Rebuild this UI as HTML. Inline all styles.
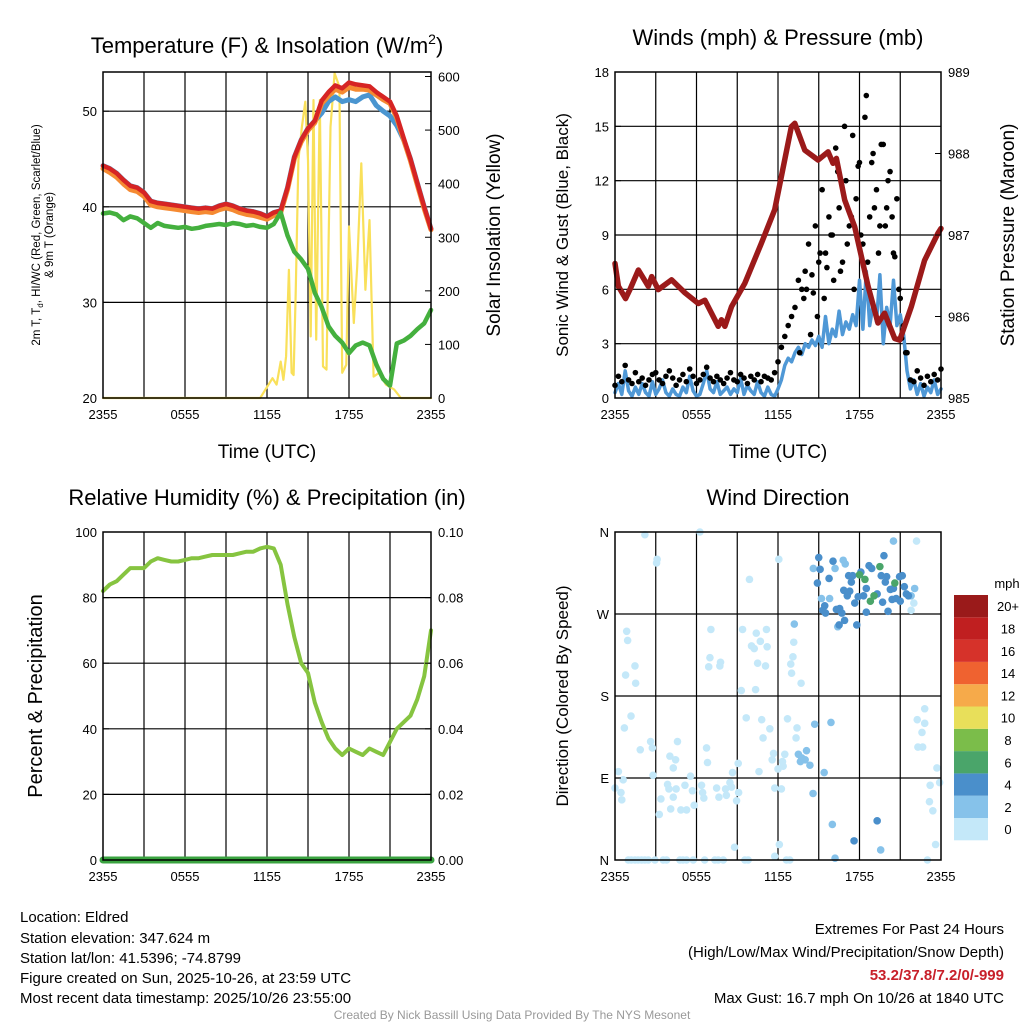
<!DOCTYPE html>
<html><head><meta charset="utf-8"><style>
body{margin:0;background:#fff}
svg{display:block;font-family:"Liberation Sans",sans-serif}
</style></head><body>
<svg id="s" width="1024" height="1024" viewBox="0 0 1024 1024" xmlns="http://www.w3.org/2000/svg">
<rect width="1024" height="1024" fill="#fff"/>
<g id="p1"></g>
<g id="p2"></g>
<g id="p3"></g>
<g id="p4"></g>
<text x="267" y="53" font-size="22" text-anchor="middle">Temperature (F) &amp; Insolation (W/m<tspan font-size="14" dy="-9">2</tspan><tspan dy="9">)</tspan></text>
<text x="778" y="45" font-size="22" text-anchor="middle">Winds (mph) &amp; Pressure (mb)</text>
<text x="267" y="505" font-size="22" text-anchor="middle">Relative Humidity (%) &amp; Precipitation (in)</text>
<text x="778" y="505" font-size="22" text-anchor="middle">Wind Direction</text>
<text transform="translate(40,235) rotate(-90)" font-size="11.5" text-anchor="middle">2m T, T<tspan font-size="8" dy="3">d</tspan><tspan dy="-3">, HI/WC (Red, Green, Scarlet/Blue)</tspan></text>
<text transform="translate(53,235) rotate(-90)" font-size="11.5" text-anchor="middle">&amp; 9m T (Orange)</text>
<text transform="translate(500,235) rotate(-90)" font-size="19" text-anchor="middle">Solar Insolation (Yellow)</text>
<text transform="translate(568,235) rotate(-90)" font-size="17" text-anchor="middle">Sonic Wind &amp; Gust (Blue, Black)</text>
<text transform="translate(1014,235) rotate(-90)" font-size="19" text-anchor="middle">Station Pressure (Maroon)</text>
<text transform="translate(42,696) rotate(-90)" font-size="20" text-anchor="middle">Percent &amp; Precipitation</text>
<text transform="translate(568,696) rotate(-90)" font-size="17" text-anchor="middle">Direction (Colored By Speed)</text>
<text x="267" y="458" font-size="19" text-anchor="middle">Time (UTC)</text>
<text x="778" y="458" font-size="19" text-anchor="middle">Time (UTC)</text>
<g font-size="15">
<text x="20" y="922">Location: Eldred</text>
<text x="20" y="943">Station elevation: 347.624 m</text>
<text x="20" y="963">Station lat/lon: 41.5396; -74.8799</text>
<text x="20" y="983">Figure created on Sun, 2025-10-26, at 23:59 UTC</text>
<text x="20" y="1003">Most recent data timestamp: 2025/10/26 23:55:00</text>
</g>
<g font-size="15" text-anchor="end">
<text x="1004" y="934">Extremes For Past 24 Hours</text>
<text x="1004" y="957">(High/Low/Max Wind/Precipitation/Snow Depth)</text>
<text x="1004" y="980" fill="#c8202a" font-weight="bold">53.2/37.8/7.2/0/-999</text>
<text x="1004" y="1003">Max Gust: 16.7 mph On 10/26 at 1840 UTC</text>
</g>
<text x="512" y="1019" font-size="12" fill="#999" text-anchor="middle">Created By Nick Bassill Using Data Provided By The NYS Mesonet</text>
<g id="cb"></g>
</svg>
<script>
// ---- data ----
const xTickLabels = ["2355","0555","1155","1755","2355"];
const halfHours = [0,0.5,1,1.5,2,2.5,3,3.5,4,4.5,5,5.5,6,6.5,7,7.5,8,8.5,9,9.5,10,10.5,11,11.5,12,12.5,13,13.5,14,14.5,15,15.5,16,16.5,17,17.5,18,18.5,19,19.5,20,20.5,21,21.5,22,22.5,23,23.5,24];
const tempRed = [44.3,44.0,43.5,42.8,42.2,42.0,41.5,40.6,40.4,40.3,40.2,40.1,40.0,39.9,39.8,39.9,39.8,40.1,40.3,40.1,39.8,39.6,39.5,39.3,39.0,39.4,39.6,42.0,45.2,47.0,48.2,49.0,51.1,52.0,52.7,52.4,53.0,52.8,52.7,52.6,52.0,51.5,51.0,49.5,47.2,45.0,42.5,40.0,37.7];
const tempOrange = [44.0,43.6,43.1,42.4,41.8,41.6,41.1,40.2,40.0,39.9,39.8,39.7,39.6,39.5,39.4,39.5,39.4,39.7,39.9,39.7,39.4,39.2,39.1,38.9,38.7,39.1,39.4,41.8,45.0,46.8,48.0,48.8,50.8,51.6,52.3,52.0,52.5,52.3,52.3,52.2,51.7,51.2,50.8,49.3,47.0,44.8,42.3,39.8,37.6];
const tempBlue = [44.3,44.0,43.5,42.8,42.2,42.0,41.5,40.6,40.4,40.3,40.2,40.1,40.0,39.9,39.8,39.9,39.8,40.1,40.3,40.1,39.8,39.6,39.5,39.3,39.0,39.4,39.6,42.0,45.2,47.0,48.2,49.0,49.8,51.0,51.5,51.0,51.2,51.0,51.5,51.7,50.6,50.0,49.5,48.5,47.0,45.0,42.5,40.0,37.7];
const dewGreen = [39.3,39.4,39.2,38.6,39.0,38.8,38.3,37.8,38.3,38.0,37.9,37.8,37.9,37.7,37.8,38.0,38.1,38.2,38.1,38.3,38.2,38.0,38.1,37.9,37.8,38.2,39.4,37.0,35.3,34.5,33.5,31.0,29.5,27.5,26.5,25.8,24.7,25.5,25.8,25.5,23.5,22.0,21.3,25.7,26.0,26.5,27.2,27.8,29.2];
const solarHours = [0,11.5,12.4,12.7,13.0,13.2,13.4,13.6,13.8,13.95,14.1,14.3,14.55,14.8,15.0,15.2,15.4,15.6,15.86,16.1,16.35,16.65,16.95,17.3,17.5,17.8,18.0,18.35,18.6,18.9,19.2,19.5,19.8,20.2,20.7,21.3,21.8,24];
const solarValues = [0,0,37,25,68,34,78,239,47,43,196,444,506,553,444,115,556,109,556,59,53,506,606,581,47,62,320,140,245,438,202,332,40,47,25,16,0,0];
const humidity = [82,84,85,87,89,89,89,91,92,91.5,91,91,91.5,92,92,92.5,93,93,93,93,93.5,94,94,95,95.5,95,90,78,68,60,57,48,42,37,34,32,34,33,32,34,33,32,36,40,42,44,49,56,70];
const precip = [0,0];
const precipHours = [0,24];
const quarterHours = [0,0.25,0.5,0.75,1,1.25,1.5,1.75,2,2.25,2.5,2.75,3,3.25,3.5,3.75,4,4.25,4.5,4.75,5,5.25,5.5,5.75,6,6.25,6.5,6.75,7,7.25,7.5,7.75,8,8.25,8.5,8.75,9,9.25,9.5,9.75,10,10.25,10.5,10.75,11,11.25,11.5,11.75,12,12.25,12.5,12.75,13,13.25,13.5,13.75,14,14.25,14.5,14.75,15,15.25,15.5,15.75,16,16.25,16.5,16.75,17,17.25,17.5,17.75,18,18.25,18.5,18.75,19,19.25,19.5,19.75,20,20.25,20.5,20.75,21,21.25,21.5,21.75,22,22.25,22.5,22.75,23,23.25,23.5,23.75,24];
const windSpeed = [0.3,0.8,0.2,1.5,0.4,0.1,0.6,0.2,0.8,0.3,0.1,0.9,0.2,0.5,1.0,0.3,0.1,0.5,0.2,0.1,0.6,0.3,1.2,0.4,0.1,0.2,0.8,1.5,0.5,0.3,0.9,0.2,0.4,0.6,0.2,0.5,0.3,1.1,0.2,0.7,0.4,0.2,0.9,0.3,0.1,0.6,0.2,0.1,0.5,1.0,1.8,2.2,2.0,2.5,2.8,2.4,3.0,2.8,3.2,2.9,3.4,2.8,4.5,3.0,3.8,3.4,4.8,3.5,4.2,3.8,4.6,4.0,6.5,3.8,7.0,4.0,5.2,4.2,6.8,3.0,5.0,4.0,6.5,4.0,4.6,3.5,1.5,0.5,1.0,0.2,0.8,0.1,0.6,0.3,1.0,0.2,0.5];
const gustSpeed = [0.7,1.2,0.9,1.8,1.0,0.8,1.4,0.9,1.1,0.7,1.0,1.3,1.4,1.0,0.8,1.2,1.5,1.1,0.7,1.0,1.3,0.9,1.6,1.2,0.8,1.0,1.3,1.7,1.1,0.9,1.2,1.0,0.8,1.1,1.4,1.0,0.9,1.3,1.1,0.8,1.2,1.0,1.3,0.9,1.2,1.1,1.0,1.4,2.0,2.8,3.4,4.0,4.5,5.0,6.5,6.0,7.0,8.5,6.8,9.5,7.5,11.5,8.0,10.0,9.0,13.8,10.5,7.5,12.0,9.5,14.5,11.0,13.0,8.5,16.7,10.0,13.5,11.5,9.5,14.0,10.5,12.5,8.0,11.0,5.5,4.0,2.5,1.0,0.9,1.5,1.1,0.7,1.2,0.9,1.3,1.0,1.6];
const extraGustHours = [13.6,13.9,14.1,14.4,14.6,14.9,15.1,15.4,15.6,15.9,16.1,16.4,16.6,16.9,17.1,17.4,17.6,17.9,18.1,18.4,18.6,18.9,19.1,19.4,19.6,19.9,20.1,20.4,20.6,20.9,21.1,21.4];
const extraGustSpeed = [2.5,5.5,6.0,3.5,5.8,4.5,8.0,5.5,7.2,9.0,6.5,12.5,7.0,15.0,8.5,10.0,6.0,12.8,9.0,15.5,7.5,13.0,10.5,8.0,14.0,9.5,12.0,10.0,7.8,6.0,3.3,2.5];
const pressureHours = [0,0.25,0.78,1.1,1.72,2.45,2.7,3.19,4.17,5.15,6.13,6.62,7.6,7.84,8.09,8.58,9.56,10.78,11.76,12.99,13.24,13.97,14.95,15.69,16.05,16.3,16.91,17.65,18.63,19.36,19.85,20.59,20.96,21.81,22.79,23.77,24];
const pressureValues = [986.65,986.37,986.22,986.33,986.57,986.37,986.49,986.33,986.45,986.29,986.16,986.2,985.88,985.96,985.88,986.12,986.41,986.9,987.31,988.33,988.37,988.04,987.92,988.02,987.88,987.94,987.43,987.1,986.37,985.92,986.04,985.73,985.71,986.12,986.69,987.02,987.08];
const dirHours = [2.2,6.25,3.1,3.06,12.06,9.9,0.86,0.93,1.47,0.78,1.52,7.06,6.99,6.9,7.77,7.72,9.39,10.4,10.7,11.15,10.05,10.25,11.2,10.5,11.08,9.3,10.35,13.16,13.1,12.94,13.0,13.7,22.2,22.0,21.8,
1.18,0.69,2.62,2.75,1.86,4.6,4.04,4.46,4.29,6.74,6.81,9.66,10.8,11.4,10.9,12.7,13.4,13.33,11.67,11.57,12.5,12.33,12.38,12.0,10.6,9.07,8.65,0.25,0.6,2.8,0.0,0.44,0.5,3.87,3.97,4.5,4.29,3.38,3.26,4.1,4.85,5.27,5.15,5.56,5.7,6.37,6.45,6.54,5.83,7.48,7.65,8.14,8.2,8.46,8.58,8.95,9.1,11.76,12.25,8.8,12.1,11.76,22.25,22.8,22.8,22.6,22.3,22.65,23.7,23.9,23.2,23.15,23.4,23.6,23.0,
0.98,1.2,1.47,1.7,1.96,2.2,2.45,2.94,3.55,3.8,4.78,5.0,5.27,5.76,6.6,7.35,7.6,7.97,9.56,9.8,12.62,12.87,
13.2,13.5,13.75,14.0,14.35,14.1,13.65,14.7,15.9,15.4,14.58,16.0,19.56,16.2,16.2,16.8,16.95,15.8,15.2,16.4,22.06,21.8,20.5,14.6,
15.0,16.05,15.76,14.9,15.1,15.44,15.3,15.5,16.3,16.54,16.7,16.9,16.5,17.8,17.2,17.5,17.4,16.84,17.28,17.1,17.9,17.65,18.1,18.7,18.5,18.3,18.5,19.8,19.6,20.0,19.9,20.27,20.4,20.1,19.3,19.7,20.95,21.15,21.0,21.3,21.45,21.6,20.7,20.5,19.3,17.6,18.9,
19.5,18.0,18.4,20.6,19.07,18.8];
const dirDegrees = [357,360,330,326,330,308,251,241,213,203,194,253,222,212,217,213,253,249,240,253,235,232,234,216,213,186,187,239,223,215,205,194,350,282,274,
158,145,130,123,121,130,114,110,101,123,107,156,154,144,134,155,145,134,117,110,116,108,103,100,97,106,96,97,88,93,79,74,66,83,78,78,69,67,50,56,55,55,82,92,76,82,74,68,60,79,69,78,71,85,80,65,74,79,78,14,17,4,154,166,150,140,124,124,101,85,82,64,54,17,0,
0,0,0,0,0,0,0,0,0,0,0,0,0,0,0,0,0,0,0,0,0,0,
259,116,112,110,104,120,108,149,151,96,73,39,11,2,320,329,325,287,287,256,298,290,350,320,
332,328,309,304,319,279,274,271,275,276,271,263,258,258,312,312,305,296,295,290,289,282,316,323,298,290,272,334,312,311,305,297,286,273,292,283,311,312,284,300,292,290,287,298,43,21,320,
322,313,308,304,290,284];
const dirSpeeds = [1,1,1,1,1,1,1,1,1,1,1,1,1,1,1,1,1,1,1,1,1,1,1,1,1,1,1,1,1,1,1,1,1,1,1,
1,1,1,1,1,1,1,1,1,1,1,1,1,1,1,1,1,1,1,1,1,1,1,1,1,1,1,1,1,1,1,1,1,1,1,1,1,1,1,1,1,1,1,1,1,1,1,1,1,1,1,1,1,1,1,1,1,1,1,1,1,1,1,1,1,1,1,1,1,1,1,1,1,1,1,
1,1,1,1,1,1,1,1,1,1,1,1,1,1,1,1,1,1,1,1,1,1,
3,3,3,3,3,3,3,3,3,3,3,3,3,3,3,3,3,3,3,3,3,3,3,3,
5,5,5,5,5,5,5,5,5,5,5,5,5,5,5,5,5,5,5,5,5,5,5,5,5,5,5,5,5,5,5,5,5,5,5,5,5,5,5,5,5,5,5,5,5,5,5,
7,7,7,7,7,7];
const cbLabels = ["0","2","4","6","8","10","12","14","16","18","20+"];
const cbColors = ["#c4e8f9","#86c2ea","#4a8fcb","#4aa56a","#7bbd4a","#e8df5a","#f6aa4a","#ef6230","#d6322a","#c01f20","#9a1a1a"];

// ---- helpers ----
const NS="http://www.w3.org/2000/svg";
function mk(tag, attrs, parent){const e=document.createElementNS(NS,tag);for(const k in attrs)e.setAttribute(k,attrs[k]);parent.appendChild(e);return e;}
function P(x0,y0,w,h){return {x0,y0,w,h,sx:t=>x0+t/24*w};}
function lin(d0,d1,p0,p1){return v=>p0+(v-d0)/(d1-d0)*(p1-p0);}
function frame(g,p,yLines,yScale){
  for(let i=1;i<8;i++){const x=p.sx(i*3);const l=mk('line',{x1:x,x2:x,y1:p.y0,y2:p.y0+p.h,stroke:'#000','stroke-width':1.2},g);
    
    }
  yLines.forEach(v=>{const y=yScale(v);const l=mk('line',{x1:p.x0,x2:p.x0+p.w,y1:y,y2:y,stroke:'#000','stroke-width':1.2},g);
    
    });
  xTickLabels.forEach((s,i)=>{const t=mk('text',{x:p.sx(i*6),y:p.y0+p.h+21,'font-size':13,'text-anchor':'middle'},g);t.textContent=s;
    
    });
}
function border(g,p){const r=mk('rect',{x:p.x0,y:p.y0,width:p.w,height:p.h,fill:'none',stroke:'#000','stroke-width':1.5},g);
  
  }
function yTicks(g,p,vals,labels,scale,side){
  vals.forEach((v,i)=>{const y=scale(v);const x=side==='l'?p.x0-6:p.x0+p.w+7;
    const t=mk('text',{x:x,y:y+5,'font-size':13,'text-anchor':side==='l'?'end':'start'},g);t.textContent=labels[i];
    
    
    const xx=side==='l'?p.x0:p.x0+p.w;
    mk('line',{x1:xx,x2:side==='l'?xx+6:xx-6,y1:y,y2:y,stroke:'#000','stroke-width':1},g);});
}
function line(g,xs,ys,sx,sy,color,w,name){
  const d=xs.map((t,i)=>(i?'L':'M')+sx(t).toFixed(1)+','+sy(ys[i]).toFixed(1)).join('');
  const e=mk('path',{d:d,fill:'none',stroke:color,'stroke-width':w,'stroke-linejoin':'round','stroke-linecap':'round'},g);
  
  
  return e;
}

// ---- panel 1 ----
{const g=document.getElementById('p1');const p=P(103,72,328,326);
 const yT=lin(20,54.1,398,72), yS=lin(0,600,398,76.5);
 frame(g,p,[30,40,50],yT);
 line(g,solarHours,solarValues,p.sx,yS,'#f9e05a',2.2,'solar-line');
 line(g,halfHours,tempBlue,p.sx,yT,'#4a95d0',5,'heat-index-line');
 line(g,halfHours,tempOrange,p.sx,yT,'#f58a32',5,'temp-9m-line');
 line(g,halfHours,tempRed,p.sx,yT,'#d62424',4.5,'temp-2m-line');
 line(g,halfHours,dewGreen,p.sx,yT,'#44b03e',4.5,'dewpoint-line');
 border(g,p);
 yTicks(g,p,[20,30,40,50],["20","30","40","50"],yT,'l');
 yTicks(g,p,[0,100,200,300,400,500,600],["0","100","200","300","400","500","600"],yS,'r');}

// ---- panel 2 ----
{const g=document.getElementById('p2');const p=P(615,72,326,326);
 const yW=lin(0,18,398,72), yP=lin(985,989,398,72);
 frame(g,p,[3,6,9,12,15],yW);
 line(g,quarterHours,windSpeed,p.sx,yW,'#4f98d6',3.5,'sonic-wind-line');
 quarterHours.forEach((t,i)=>{const c=mk('circle',{cx:p.sx(t),cy:yW(gustSpeed[i]),r:2.8,fill:'#000'},g);
   
   });
 extraGustHours.forEach((t,i)=>{const c=mk('circle',{cx:p.sx(t),cy:yW(extraGustSpeed[i]),r:2.8,fill:'#000'},g);
   
   });
 line(g,pressureHours,pressureValues,p.sx,yP,'#9b1a1a',5.5,'pressure-line');
 border(g,p);
 yTicks(g,p,[0,3,6,9,12,15,18],["0","3","6","9","12","15","18"],yW,'l');
 yTicks(g,p,[985,986,987,988,989],["985","986","987","988","989"],yP,'r');}

// ---- panel 3 ----
{const g=document.getElementById('p3');const p=P(103,532,328,328);
 const yH=lin(0,100,860,532), yR=lin(0,0.1,860,532);
 frame(g,p,[20,40,60,80],yH);
 line(g,halfHours,humidity,p.sx,yH,'#86c440',4,'humidity-line');
 line(g,precipHours,precip,p.sx,yR,'#3aa340',7,'precipitation-line');
 border(g,p);
 yTicks(g,p,[0,20,40,60,80,100],["0","20","40","60","80","100"],yH,'l');
 yTicks(g,p,[0,0.02,0.04,0.06,0.08,0.1],["0.00","0.02","0.04","0.06","0.08","0.10"],yR,'r');}

// ---- panel 4 ----
{const g=document.getElementById('p4');const p=P(615,532,326,328);
 const yD=lin(0,360,860,532);
 frame(g,p,[90,180,270],yD);
 function col(s){return cbColors[Math.min(10,Math.floor(s/2))];}
 dirHours.forEach((t,i)=>{const c=mk('circle',{cx:p.sx(t),cy:yD(dirDegrees[i]),r:3.8,fill:col(dirSpeeds[i])},g);
   
   });
 border(g,p);
 yTicks(g,p,[0,90,180,270,360],["N","E","S","W","N"],yD,'l');}

// ---- colorbar ----
{const g=document.getElementById('cb');const x=954,y0=595,bh=22.3,w=34;
 cbColors.forEach((c,i)=>{const y=y0+(10-i)*bh;const r=mk('rect',{x:x,y:y,width:w,height:bh,fill:c},g);
   
   
   const t=mk('text',{x:1008,y:y+bh/2+5,'font-size':13,'text-anchor':'middle'},g);t.textContent=cbLabels[i];
   
   });
 const t=mk('text',{x:1007,y:588,'font-size':13,'text-anchor':'middle'},g);t.textContent='mph';
 
 }
</script>
</body></html>
